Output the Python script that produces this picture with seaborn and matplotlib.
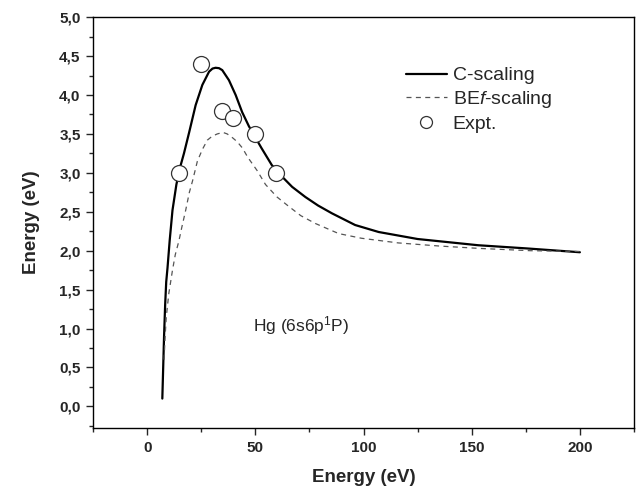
import numpy as np
import pandas as pd
import seaborn as sns
import matplotlib.pyplot as plt
from matplotlib.ticker import MultipleLocator, FuncFormatter

# C-scaling curve
c_x = [7, 7.4, 7.8, 8.3, 8.8, 9.4, 10.4, 11.7, 13.5, 15, 17, 19.4, 22.4, 25.5,
       28.6, 30.2, 31.6, 33.2, 34.7, 37.8, 40.9, 43.9, 47, 52.8, 57.6, 62.4, 67,
       73.1, 79, 85.4, 96.1, 107, 125, 153, 175, 200]
c_y = [0.1, 0.5, 0.9, 1.3, 1.6, 1.78, 2.13, 2.52, 2.85, 3.05, 3.25, 3.52, 3.87,
       4.13, 4.3, 4.34, 4.35, 4.345, 4.32, 4.19, 4.0, 3.78, 3.6, 3.32, 3.1, 2.95,
       2.82, 2.69, 2.58, 2.48, 2.33, 2.24, 2.15, 2.07, 2.03, 1.98]

# BEf-scaling curve
b_x = [7.8, 8.3, 8.8, 10, 11.7, 13, 14.7, 16, 17.8, 19.5, 21, 23.2, 25.5, 27.8,
       30, 32.4, 35, 37, 39.5, 41.6, 44, 46.5, 50.8, 54.7, 60, 65.4, 71, 77.7,
       88.5, 99, 116, 135, 153, 177, 200]
b_y = [0.6, 0.9, 1.14, 1.45, 1.75, 1.95, 2.13, 2.3, 2.52, 2.75, 2.9, 3.15, 3.3,
       3.42, 3.47, 3.5, 3.52, 3.5, 3.45, 3.4, 3.32, 3.2, 3.03, 2.85, 2.69, 2.57,
       2.45, 2.35, 2.22, 2.16, 2.1, 2.06, 2.03, 2.0, 1.99]

# Experimental points
e_x = [14.5, 25, 34.5, 39.5, 50, 59.5]
e_y = [3.0, 4.4, 3.8, 3.7, 3.5, 3.0]

def plot():
    sns.set_style("ticks")
    plt.rcParams['font.family'] = ['Liberation Sans', 'DejaVu Sans']
    plt.rcParams['mathtext.fontset'] = 'custom'
    plt.rcParams['mathtext.rm'] = 'Liberation Sans'
    plt.rcParams['mathtext.it'] = 'Liberation Sans:italic'

    fig = plt.figure(figsize=(6.42, 4.91), dpi=100)
    ax = fig.add_axes([0.145, 0.128, 0.8425, 0.837])

    cdf = pd.DataFrame({'x': c_x, 'y': c_y})
    bdf = pd.DataFrame({'x': b_x, 'y': b_y})

    sns.lineplot(data=cdf, x='x', y='y', ax=ax, color='black', lw=1.6,
                 label='C-scaling', sort=False)
    sns.lineplot(data=bdf, x='x', y='y', ax=ax, color='#555555', lw=0.9,
                 label='BE$\\it{f}$-scaling', sort=False)
    ax.lines[-1].set_dashes((4, 3.5))
    ax.plot(e_x, e_y, ls='none', marker='o', ms=11.5, mfc='white',
            mec='#333333', mew=0.9, label='Expt.')

    ax.set_xlim(-25, 225)
    ax.set_ylim(-0.28, 5.0)
    ax.xaxis.set_major_locator(MultipleLocator(50))
    ax.xaxis.set_minor_locator(MultipleLocator(25))
    ax.yaxis.set_major_locator(MultipleLocator(0.5))
    ax.yaxis.set_minor_locator(MultipleLocator(0.25))
    ax.yaxis.set_major_formatter(FuncFormatter(lambda v, p: f"{v:.1f}".replace('.', ',')))
    ax.tick_params(which='major', direction='out', length=5, width=1,
                   labelsize=11, pad=4)
    ax.tick_params(which='minor', direction='out', length=3, width=1)
    for lab in ax.get_xticklabels() + ax.get_yticklabels():
        lab.set_fontweight('bold')
    for s in ax.spines.values():
        s.set_linewidth(1.0)
        s.set_color('black')

    ax.set_xlabel("Energy (eV)", fontsize=13.5, fontweight='bold', labelpad=10)
    ax.set_ylabel("Energy (eV)", fontsize=13.5, fontweight='bold', labelpad=14)

    ax.text(49, 1.04, "Hg (6s6p$^{\\mathregular{1}}$P)", fontsize=12.5,
            va='center', ha='left')

    ax.legend(loc='upper left', bbox_to_anchor=(0.546, 0.922), frameon=False,
              fontsize=14, handlelength=2.1, handletextpad=0.3,
              labelspacing=0.25, markerscale=0.75)

    plt.savefig('out.png', dpi=100)
    plt.close()

plot()
